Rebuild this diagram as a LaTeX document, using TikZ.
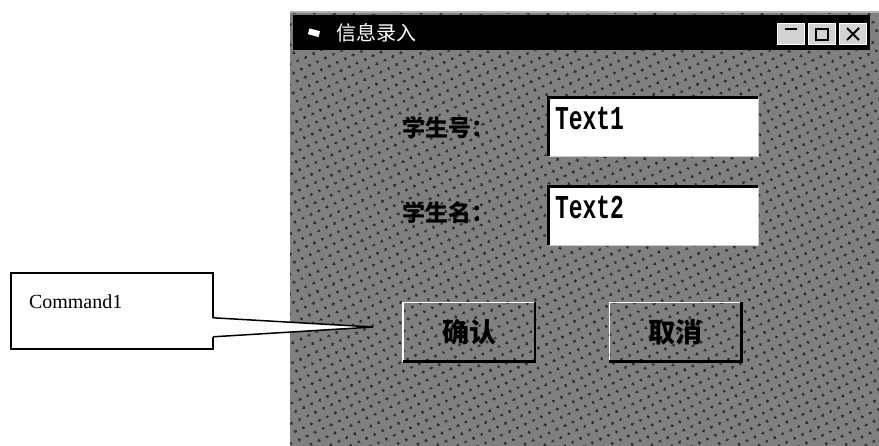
\documentclass[tikz,border=0pt]{standalone}
\usepackage{fontspec}
\setmainfont{Liberation Serif}
\newfontfamily\cjk{Noto Sans CJK SC}
\newfontfamily\codefont{Liberation Mono}
\usetikzlibrary{patterns,patterns.meta,positioning,calc}
\definecolor{formgray}{RGB}{128,128,128}
\definecolor{dotgray}{RGB}{45,45,45}

\tikzdeclarepattern{
  name=formdots,
  type=uncolored,
  bottom left={(0pt,0pt)},
  top right={(9pt,9pt)},
  tile size={(9pt,9pt)},
  tile transformation={rotate=25},
  code={\fill (4.5pt,4.5pt) circle (1.9pt);}
}

\begin{document}
\begin{tikzpicture}[x=1pt, y=-1pt,
  textbox/.style={fill=white, draw=white!80!black, minimum width=209pt,
    minimum height=58pt, inner sep=0pt},
  pushbtn/.style={minimum width=132pt, minimum height=59pt, inner sep=0pt,
    font=\cjk\bfseries\fontsize{27}{27}\selectfont},
  formlabel/.style={font=\cjk\bfseries\fontsize{23}{23}\selectfont, inner sep=0pt},
  capbtn/.style={fill=gray!35, draw=white, minimum width=27pt,
    minimum height=21pt, inner sep=0pt},
  callbox/.style={fill=white, minimum width=202pt, minimum height=76pt, inner sep=0pt}]
  \useasboundingbox (0,0) rectangle (879,446);

  % form body
  \fill[formgray] (290,12) rectangle (879,446);
  \fill[pattern=formdots, pattern color=dotgray] (290,12) rectangle (879,446);
  \draw[white!70!black, line width=1.5pt] (290,12) -- (879,12);

  % title bar
  \node[fill=black, minimum width=577pt, minimum height=35pt, inner sep=0pt,
        anchor=north west] (titlebar) at (293,15) {};
  \node[fill=white, minimum width=11pt, minimum height=6pt, inner sep=0pt,
        rotate=-15] (titleicon) at ([xshift=21pt]titlebar.west) {};
  \node[anchor=west, text=white, font=\cjk\fontsize{20}{20}\selectfont]
        (title) at ([xshift=40pt]titlebar.west) {信息录入};
  \node[capbtn] (winmin)   at (791,34) {};
  \node[capbtn] (winmax)   at (822,34) {};
  \node[capbtn] (winclose) at (853,34) {};
  \draw[line width=2pt] ([shift={(-6,-5)}]winmin.center) -- ([shift={(6,-5)}]winmin.center);
  \draw[line width=1.5pt] ([shift={(-6,-5)}]winmax.center) rectangle ([shift={(6,6)}]winmax.center);
  \draw[line width=2pt] ([shift={(-6,-6)}]winclose.center) -- ([shift={(6,6)}]winclose.center)
                        ([shift={(-6,6)}]winclose.center) -- ([shift={(6,-6)}]winclose.center);

  % labels and text boxes
  \node[formlabel] (lblnum)  at (448,128) {学生号：};
  \node[formlabel] (lblname) at (448,213) {学生名：};
  \node[textbox] (txtnum)  at (653.5,127) {};
  \node[textbox] (txtname) at (653.5,216) {};
  \draw[line width=3pt] (txtnum.south west) -- (txtnum.north west) -- (txtnum.north east);
  \draw[line width=3pt] (txtname.south west) -- (txtname.north west) -- (txtname.north east);
  \node[anchor=north west, inner sep=0pt, font=\codefont\bfseries\fontsize{23}{23}\selectfont]
        (txtnumtext) at ([shift={(6,9)}]txtnum.north west) {\scalebox{1}[1.45]{Text1}};
  \node[anchor=north west, inner sep=0pt, font=\codefont\bfseries\fontsize{23}{23}\selectfont]
        (txtnametext) at ([shift={(6,9)}]txtname.north west) {\scalebox{1}[1.45]{Text2}};

  % buttons
  \node[pushbtn] (btnok)     at (469,332)   {确认};
  \node[pushbtn] (btncancel) at (675.5,332) {取消};
  \draw[white, line width=1.5pt] (btnok.south west) -- (btnok.north west) -- (btnok.north east);
  \draw[black, line width=2.5pt] (btnok.north east) -- (btnok.south east) -- (btnok.south west);
  \draw[white, line width=1.5pt] (btncancel.south west) -- (btncancel.north west) -- (btncancel.north east);
  \draw[black, line width=2.5pt] (btncancel.north east) -- (btncancel.south east) -- (btncancel.south west);

  % callout
  \node[callbox] (callout) at (112,311) {};
  \node[anchor=west, inner sep=0pt, font=\fontsize{20}{20}\selectfont]
        (cmdlabel) at ([shift={(18,-9)}]callout.west) {Command1};
  \coordinate (tip) at (373,327);
  \coordinate (baseup) at ([shift={(0,45)}]callout.north east);
  \coordinate (baselow) at ([shift={(0,64)}]callout.north east);
  \fill[white] (baseup) -- (tip) -- (baselow) -- cycle;
  \draw[line width=1.5pt] (baseup) -- (callout.north east) -- (callout.north west)
        -- (callout.south west) -- (callout.south east) -- (baselow);
  \draw[line width=1.5pt] (baseup) -- (tip) -- (baselow);
\end{tikzpicture}
\end{document}
